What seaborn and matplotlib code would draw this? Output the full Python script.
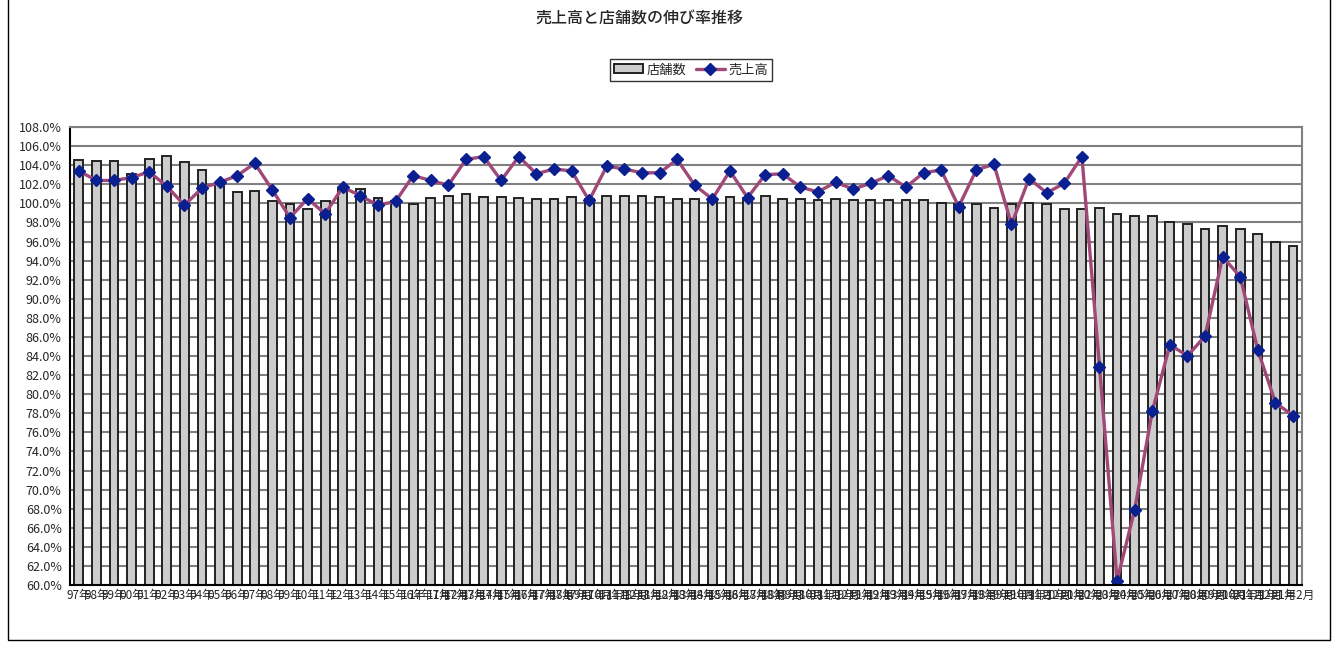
import matplotlib
matplotlib.use("Agg")
import matplotlib.pyplot as plt
import seaborn as sns
import pandas as pd
from matplotlib.ticker import FuncFormatter, FixedLocator

# 年次ラベル (97年〜16年) と月次ラベル (17年1月〜21年2月)
anios = ["97年", "98年", "99年", "00年", "01年", "02年", "03年", "04年", "05年", "06年",
         "07年", "08年", "09年", "10年", "11年", "12年", "13年", "14年", "15年", "16年"]
meses = ([f"17年{m}月" for m in range(1, 13)] + [f"18年{m}月" for m in range(1, 13)]
         + [f"19年{m}月" for m in range(1, 13)] + [f"20年{m}月" for m in range(1, 13)]
         + ["21年1月", "21年2月"])
etiquetas = anios + meses

# 店舗数の伸び率 (%)
tiendas = [104.5, 104.4, 104.4, 103.1, 104.6, 105.0, 104.3, 103.5, 102.0, 101.2,
           101.3, 100.2, 99.9, 99.4, 100.2, 101.5, 101.5, 100.6, 100.2, 99.9,
           100.6, 100.8, 101.0, 100.7, 100.7, 100.6, 100.5, 100.5, 100.7, 100.5,
           100.8, 100.8, 100.8, 100.7, 100.5, 100.5, 100.5, 100.7, 100.6, 100.8,
           100.5, 100.5, 100.4, 100.5, 100.4, 100.4, 100.35, 100.35, 100.3, 100.0,
           99.9, 99.9, 99.5, 99.9, 100.0, 99.9, 99.4, 99.4, 99.5, 98.9,
           98.7, 98.7, 98.05, 97.8, 97.3, 97.6, 97.3, 96.8, 96.0, 95.5]

# 売上高の伸び率 (%)
ventas = [103.4, 102.4, 102.4, 102.7, 103.3, 101.8, 99.8, 101.6, 102.2, 102.9,
          104.2, 101.4, 98.5, 100.5, 98.9, 101.7, 100.8, 99.8, 100.2, 102.9,
          102.4, 101.9, 104.6, 104.9, 102.4, 104.9, 103.1, 103.6, 103.4, 100.3,
          103.9, 103.6, 103.2, 103.2, 104.6, 101.9, 100.45, 103.4, 100.6, 103.0,
          103.1, 101.7, 101.2, 102.2, 101.5, 102.1, 102.9, 101.7, 103.2, 103.5,
          99.65, 103.5, 104.1, 97.8, 102.6, 101.1, 102.1, 104.9, 82.9, 60.45,
          67.9, 78.2, 85.2, 84.0, 86.1, 94.4, 92.3, 84.6, 79.1, 77.75]

df = pd.DataFrame({"periodo": etiquetas, "tiendas": tiendas, "ventas": ventas})

sns.set_style("white")
plt.rcParams["font.family"] = ["Noto Sans CJK JP", "DejaVu Sans"]

fig = plt.figure(figsize=(13.38, 6.48), dpi=100)
ax = fig.add_axes([0.0523, 0.0972, 0.9207, 0.7068])

sns.barplot(data=df, x="periodo", y="tiendas", order=etiquetas, color="#cccccc",
            edgecolor="#222222", linewidth=1.4, width=0.5, saturation=1, ax=ax)
sns.pointplot(data=df, x="periodo", y="ventas", order=etiquetas, color="#a04878",
              markers="D", linestyles="-", errorbar=None, linewidth=2.4,
              markersize=6.5, markerfacecolor="#0a2090", markeredgecolor="#0a2090",
              markeredgewidth=1, ax=ax)

ax.set_ylim(60, 108)
ax.set_xlim(-0.5, len(etiquetas) - 0.5)
ax.yaxis.set_major_locator(FixedLocator([60 + 2 * i for i in range(25)]))
ax.yaxis.set_major_formatter(FuncFormatter(lambda v, p: f"{v:.1f}%"))
ax.grid(axis="y", color="#808080", linewidth=1.5)
ax.set_axisbelow(True)
ax.set_xlabel("")
ax.set_ylabel("")
ax.set_title("")

ax.tick_params(axis="y", labelsize=9, length=3, color="black", pad=3)
ax.tick_params(axis="x", which="major", labelsize=8.5, length=0, pad=3)
ax.set_xticks(range(len(etiquetas)))
ax.set_xticklabels(etiquetas, rotation=0)
ax.set_xticks([i - 0.5 for i in range(len(etiquetas) + 1)], minor=True)
ax.tick_params(axis="x", which="minor", direction="in", length=3, color="black")

for lado in ["top", "right"]:
    ax.spines[lado].set_color("#808080")
    ax.spines[lado].set_linewidth(1.5)
for lado in ["left", "bottom"]:
    ax.spines[lado].set_color("black")
    ax.spines[lado].set_linewidth(1.5)

ax.legend(handles=[ax.patches[0], ax.lines[-1]], labels=["店舗数", "売上高"],
          loc="center", bbox_to_anchor=(0.5165, 0.892), bbox_transform=fig.transFigure,
          ncol=2, frameon=True, fancybox=False, edgecolor="black", fontsize=9.5,
          handlelength=2.2, handletextpad=0.25, columnspacing=0.7, borderpad=0.35)

fig.text(0.478, 0.972, "売上高と店舗数の伸び率推移", ha="center", va="center",
         fontsize=11.5, fontweight="medium")

# 外枠
fig.add_artist(plt.Rectangle((0.006, 0.012), 0.988, 0.99, transform=fig.transFigure,
                             fill=False, edgecolor="black", linewidth=1))

fig.savefig("out.png", dpi=100)
plt.close()
